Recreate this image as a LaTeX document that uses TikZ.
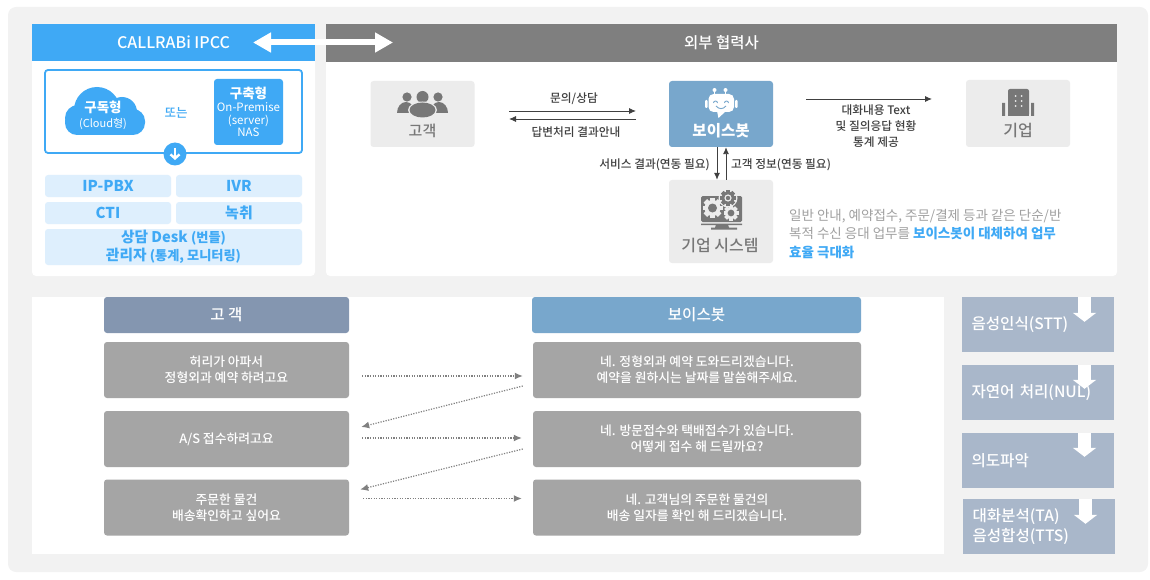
\documentclass[tikz,border=0pt]{standalone}
\usepackage{fontspec}
\usepackage{xcolor}
\setmainfont{Noto Sans CJK KR}
\newfontfamily\midfont{Noto Sans CJK KR Medium}
\usetikzlibrary{arrows.meta,positioning}
\definecolor{skyblue}{HTML}{3FA9F5}
\definecolor{paleblue}{HTML}{DEEFFD}
\definecolor{botblue}{HTML}{78A7CC}
\definecolor{custblue}{HTML}{8496B0}
\definecolor{stepblue}{HTML}{A9B7CA}
\definecolor{panelgray}{HTML}{F2F2F2}
\definecolor{iconbox}{HTML}{ECECEC}
\definecolor{icongray}{HTML}{777777}
\definecolor{rowgray}{HTML}{A5A5A5}
\definecolor{headgray}{HTML}{7F7F7F}
\definecolor{inkgray}{HTML}{404040}
\definecolor{notegray}{HTML}{A0A0A0}
\newcommand{\sz}[1]{\fontsize{#1}{#1}\selectfont}
\newcommand{\gearicon}[5]{%
  \foreach \a in {0,45,...,315}{\fill[#4,rotate around={\a:(#1,#2)}] (#1-#3*0.24,#2-#3) rectangle (#1+#3*0.24,#2+#3);}
  \fill[#4] (#1,#2) circle[radius=#3*0.8];
  \fill[#5] (#1,#2) circle[radius=#3*0.45];
}
\begin{document}
\begin{tikzpicture}[
  x=1pt, y=-1pt,
  box/.style={rectangle, inner sep=0pt, align=center, rounded corners=3pt},
  panel/.style={box, fill=white, rounded corners=4pt},
  header/.style={box, rounded corners=0pt, text=white, font=\sz{15.5}\midfont},
  paleitem/.style={box, fill=paleblue, text=skyblue, font=\sz{15}\bfseries, minimum height=22pt},
  iconcard/.style={box, fill=iconbox, minimum width=104pt, text=icongray, font=\sz{16}},
  rowcard/.style={box, fill=rowgray, minimum height=56pt, text=white, font=\midfont\fontsize{12.8}{16}\selectfont},
  stepcard/.style={box, rounded corners=0pt, fill=stepblue, minimum height=55pt, text=white, text width=133pt,
    inner xsep=9.5pt, align=left, font=\midfont\fontsize{15.6}{19.5}\selectfont},
  lbl/.style={inner sep=0pt, text=inkgray, align=center, font=\midfont\fontsize{11.7}{16}\selectfont},
  arr/.style={draw=inkgray, line width=0.9pt, -{Latex[length=7pt,width=6pt]}},
  dotarr/.style={draw=gray, line width=1.2pt, dash pattern=on 1.2pt off 1.4pt, -{Latex[length=8pt,width=7pt,fill=gray]}},
  stepdown/.style={draw=white, line width=13pt, -{Triangle[length=9pt,width=23pt]}}
]
\useasboundingbox (0,0) rectangle (1150,580);
\node[box, fill=panelgray, rounded corners=8pt, minimum width=1140pt, minimum height=565pt] (back) at (578,289.5) {};

\node[panel, minimum width=283pt, minimum height=252pt] (leftpanel) at (173.5,150) {};
\node[panel, minimum width=791pt, minimum height=252pt] (rightpanel) at (721.5,150) {};
\node[header, fill=skyblue, minimum width=283pt, minimum height=37pt] (ipcc) at (173.5,42.5) {\sz{16}CALLRABi IPCC};
\node[header, fill=headgray, minimum width=791pt, minimum height=38pt] (partner) at (721.5,43) {외부 협력사};
\coordinate (xchgleft) at (253,42.5);
\coordinate (xchgright) at (393,42.5);
\draw[white, line width=6pt, {Triangle[length=18pt,width=19pt]}-{Triangle[length=18pt,width=19pt]}] (xchgleft) -- (xchgright);

\node[box, draw=skyblue, line width=1.8pt, minimum width=257pt, minimum height=83pt] (deploy) at (173.5,111.5) {};
\fill[skyblue, rounded corners=12pt] (65,109) rectangle (145,135);
\fill[skyblue] (97,110) circle[radius=23];
\fill[skyblue] (122,112) circle[radius=15];
\fill[skyblue] (78,118) circle[radius=13];
\node[inner sep=0pt, text=white, align=center, font=\fontsize{11}{15}\selectfont] (cloudtxt) at (103,115) {{\sz{13.5}\bfseries 구독형}\\(Cloud형)};
\node[inner sep=0pt, text=skyblue, font=\sz{12.5}\midfont] (ortxt) at (176,113) {또는};
\node[box, fill=skyblue, minimum width=69pt, minimum height=66pt, text=white, font=\fontsize{11.5}{12.5}\selectfont] (onprem) at (248.5,112) {{\sz{13.5}\bfseries 구축형}\\[1pt]On-Premise\\(server)\\NAS};
\node[circle, fill=skyblue, minimum size=23pt, inner sep=0pt] (dncircle) at (175,154) {};
\draw[white, line width=2.4pt, -{Straight Barb[length=4pt,width=9pt]}] (175,148) -- (175,160);

\node[paleitem, minimum width=126pt] (pbx) at (108,186) {IP-PBX};
\node[paleitem, minimum width=126pt] (ivr) at (239,186) {IVR};
\node[paleitem, minimum width=126pt] (cti) at (108,213) {CTI};
\node[paleitem, minimum width=126pt] (rec) at (239,213) {녹취};
\node[paleitem, minimum width=257pt, minimum height=36pt, font=\bfseries\fontsize{14.7}{17.5}\selectfont] (desk) at (173.5,247) {상담 Desk {\sz{13.2}\midfont(번들)}\\관리자 {\sz{13.2}\midfont(통계, 모니터링)}};

\node[iconcard, minimum height=66pt] (cust) at (422.5,114) {};
\node[iconcard, minimum height=66pt, fill=botblue] (bot) at (721,114) {};
\node[iconcard, minimum height=83pt] (sys) at (721,221.5) {};
\node[iconcard, minimum height=67pt] (corp) at (1018,113.5) {};
\node[inner sep=0pt, text=icongray, font=\sz{15}\midfont] (custtxt) at (422.5,131) {고객};
\node[inner sep=0pt, text=white, font=\sz{15.5}\bfseries] (bottxt) at (721,131) {보이스봇};
\node[inner sep=0pt, text=icongray, font=\sz{16}\midfont] (systxt) at (720,246) {기업 시스템};
\node[inner sep=0pt, text=icongray, font=\sz{16}\midfont] (corptxt) at (1018,131) {기업};

\fill[icongray] (407,97) circle[radius=4.6] (438,97) circle[radius=4.6];
\fill[icongray] (397,113) arc[start angle=180, end angle=0, x radius=9pt, y radius=11pt] -- cycle;
\fill[icongray] (430,113) arc[start angle=180, end angle=0, x radius=9pt, y radius=11pt] -- cycle;
\fill[iconbox] (422.5,97) circle[radius=7.5];
\fill[icongray] (422.5,97) circle[radius=6];
\fill[iconbox] (422.5,110) ellipse[x radius=14.5, y radius=8.5];
\fill[icongray] (422.5,110) ellipse[x radius=13, y radius=7.5];

\fill[white] (714.5,90) circle[radius=2] (725.5,90) circle[radius=2];
\draw[white, line width=1pt] (714.5,90) -- (714.5,96) (725.5,90) -- (725.5,96);
\fill[white, rounded corners=5pt] (708.5,94) rectangle (734,112);
\fill[white] (717,111) -- (718.5,118) -- (726,111) -- cycle;
\fill[white, rounded corners=1pt] (705,100) rectangle (707.5,108) (735,100) rectangle (737.5,108);
\draw[botblue, line width=0.9pt] (713.5,103) arc[start angle=180, end angle=0, radius=2pt] (724.5,103) arc[start angle=180, end angle=0, radius=2pt];
\draw[botblue, line width=0.9pt] (716,106) .. controls (719,109.5) and (723,109.5) .. (726,106);

\fill[icongray, rounded corners=1.5pt] (701,196) rectangle (742,222);
\fill[icongray] (701,223.5) rectangle (742,225) (716,225) -- (728,225) -- (729,227.5) -- (715,227.5) -- cycle (711,227.5) rectangle (737,229.5);
\gearicon{712.5}{208}{10}{iconbox}{icongray}
\fill[iconbox] (728,198) circle[radius=9.5];
\gearicon{728}{198}{8}{icongray}{iconbox}
\fill[icongray] (728,198) circle[radius=2.2];
\gearicon{731}{213}{7.5}{iconbox}{icongray}

\fill[icongray, rounded corners=2pt] (1008,89) rectangle (1029,116);
\fill[icongray] (1008,100) rectangle (1029,116);
\foreach \wx in {1015.5,1021.5}
  \foreach \wy in {96,101,106}
    \fill[iconbox] (\wx,\wy) circle[radius=1];
\fill[icongray] (1002,103) rectangle (1005,116) (1031,103) rectangle (1034,116);

\coordinate (askstart) at (509,111);
\coordinate (askend) at (636,111);
\coordinate (ansstart) at (636,119);
\coordinate (ansend) at (509,119);
\coordinate (reportstart) at (806,99);
\coordinate (reportend) at (932,99);
\draw[arr] (askstart) -- (askend);
\draw[arr] (ansstart) -- (ansend);
\draw[arr] (reportstart) -- (reportend);
\draw[arr] ([xshift=-4pt]bot.south) -- ([xshift=-4pt]sys.north);
\draw[arr] ([xshift=5pt]sys.north) -- ([xshift=5pt]bot.south);
\node[lbl] (asktxt) at (574,99) {문의/상담};
\node[lbl] (anstxt) at (576,132) {답변처리 결과안내};
\node[lbl, anchor=east] (svctxt) at (710,165) {서비스 결과(연동 필요)};
\node[lbl, anchor=west] (infotxt) at (731,165) {고객 정보(연동 필요)};
\node[lbl] (reporttxt) at (876,126.5) {대화내용 Text\\및 질의응답 현황\\통계 제공};
\node[inner sep=0pt, anchor=north west, align=left, text=notegray, font=\fontsize{13.5}{18.5}\selectfont] (note) at (789,209) {일반 안내, 예약접수, 주문/결제 등과 같은 단순/반\\복적 수신 응대 업무를 {\color{skyblue}\bfseries 보이스봇이 대체하여 업무}\\{\color{skyblue}\bfseries 효율 극대화}};

\node[box, rounded corners=0pt, fill=white, minimum width=912pt, minimum height=257pt] (dialog) at (488,425.5) {};
\node[box, rounded corners=3pt, fill=custblue, text=white, font=\sz{15.6}\midfont, minimum width=245pt, minimum height=36pt] (custhead) at (226.5,315) {고 객};
\node[box, fill=botblue, text=white, font=\sz{15.6}\midfont, minimum width=329pt, minimum height=36pt] (bothead) at (696.5,315) {보이스봇};
\node[rowcard, minimum width=245pt] (q1) at (226.5,370) {허리가 아파서\\정형외과 예약 하려고요};
\node[rowcard, minimum width=245pt] (q2) at (226.5,439) {A/S 접수하려고요};
\node[rowcard, minimum width=245pt] (q3) at (226.5,507.5) {주문한 물건\\배송확인하고 싶어요};
\node[rowcard, minimum width=328pt] (a1) at (697,370) {네. 정형외과 예약 도와드리겠습니다.\\예약을 원하시는 날짜를 말씀해주세요.};
\node[rowcard, minimum width=328pt] (a2) at (697,439) {네. 방문접수와 택배접수가 있습니다.\\어떻게 접수 해 드릴까요?};
\node[rowcard, minimum width=328pt] (a3) at (697,507.5) {네. 고객님의 주문한 물건의\\배송 일자를 확인 해 드리겠습니다.};
\draw[dotarr] ([xshift=13pt,yshift=-6pt]q1.east) -- ([xshift=-10pt,yshift=-6pt]a1.west);
\draw[dotarr] ([xshift=-10pt,yshift=-16pt]a1.west) -- ([xshift=12pt,yshift=12pt]q2.east);
\draw[dotarr] ([xshift=13pt,yshift=1pt]q2.east) -- ([xshift=-11pt,yshift=1pt]a2.west);
\draw[dotarr] ([xshift=-10pt,yshift=-10pt]a2.west) -- ([xshift=11pt,yshift=18pt]q3.east);
\draw[dotarr] ([xshift=14pt,yshift=9pt]q3.east) -- ([xshift=-11pt,yshift=9pt]a3.west);

\node[stepcard] (stt) at (1038,324.5) {음성인식(STT)};
\node[stepcard] (nlu) at (1038,392.5) {자연어 처리(NUL)};
\node[stepcard] (intent) at (1038,460.5) {의도파악};
\node[stepcard] (tts) at (1039,526.5) {대화분석(TA)\\음성합성(TTS)};
\draw[stepdown] ([xshift=46.5pt]stt.north) -- ++(0,25);
\draw[stepdown] ([xshift=46.5pt]nlu.north) -- ++(0,24);
\draw[stepdown] ([xshift=46.5pt]intent.north) -- ++(0,24);
\draw[stepdown] ([xshift=46.5pt]tts.north) -- ++(0,25);
\end{tikzpicture}
\end{document}
